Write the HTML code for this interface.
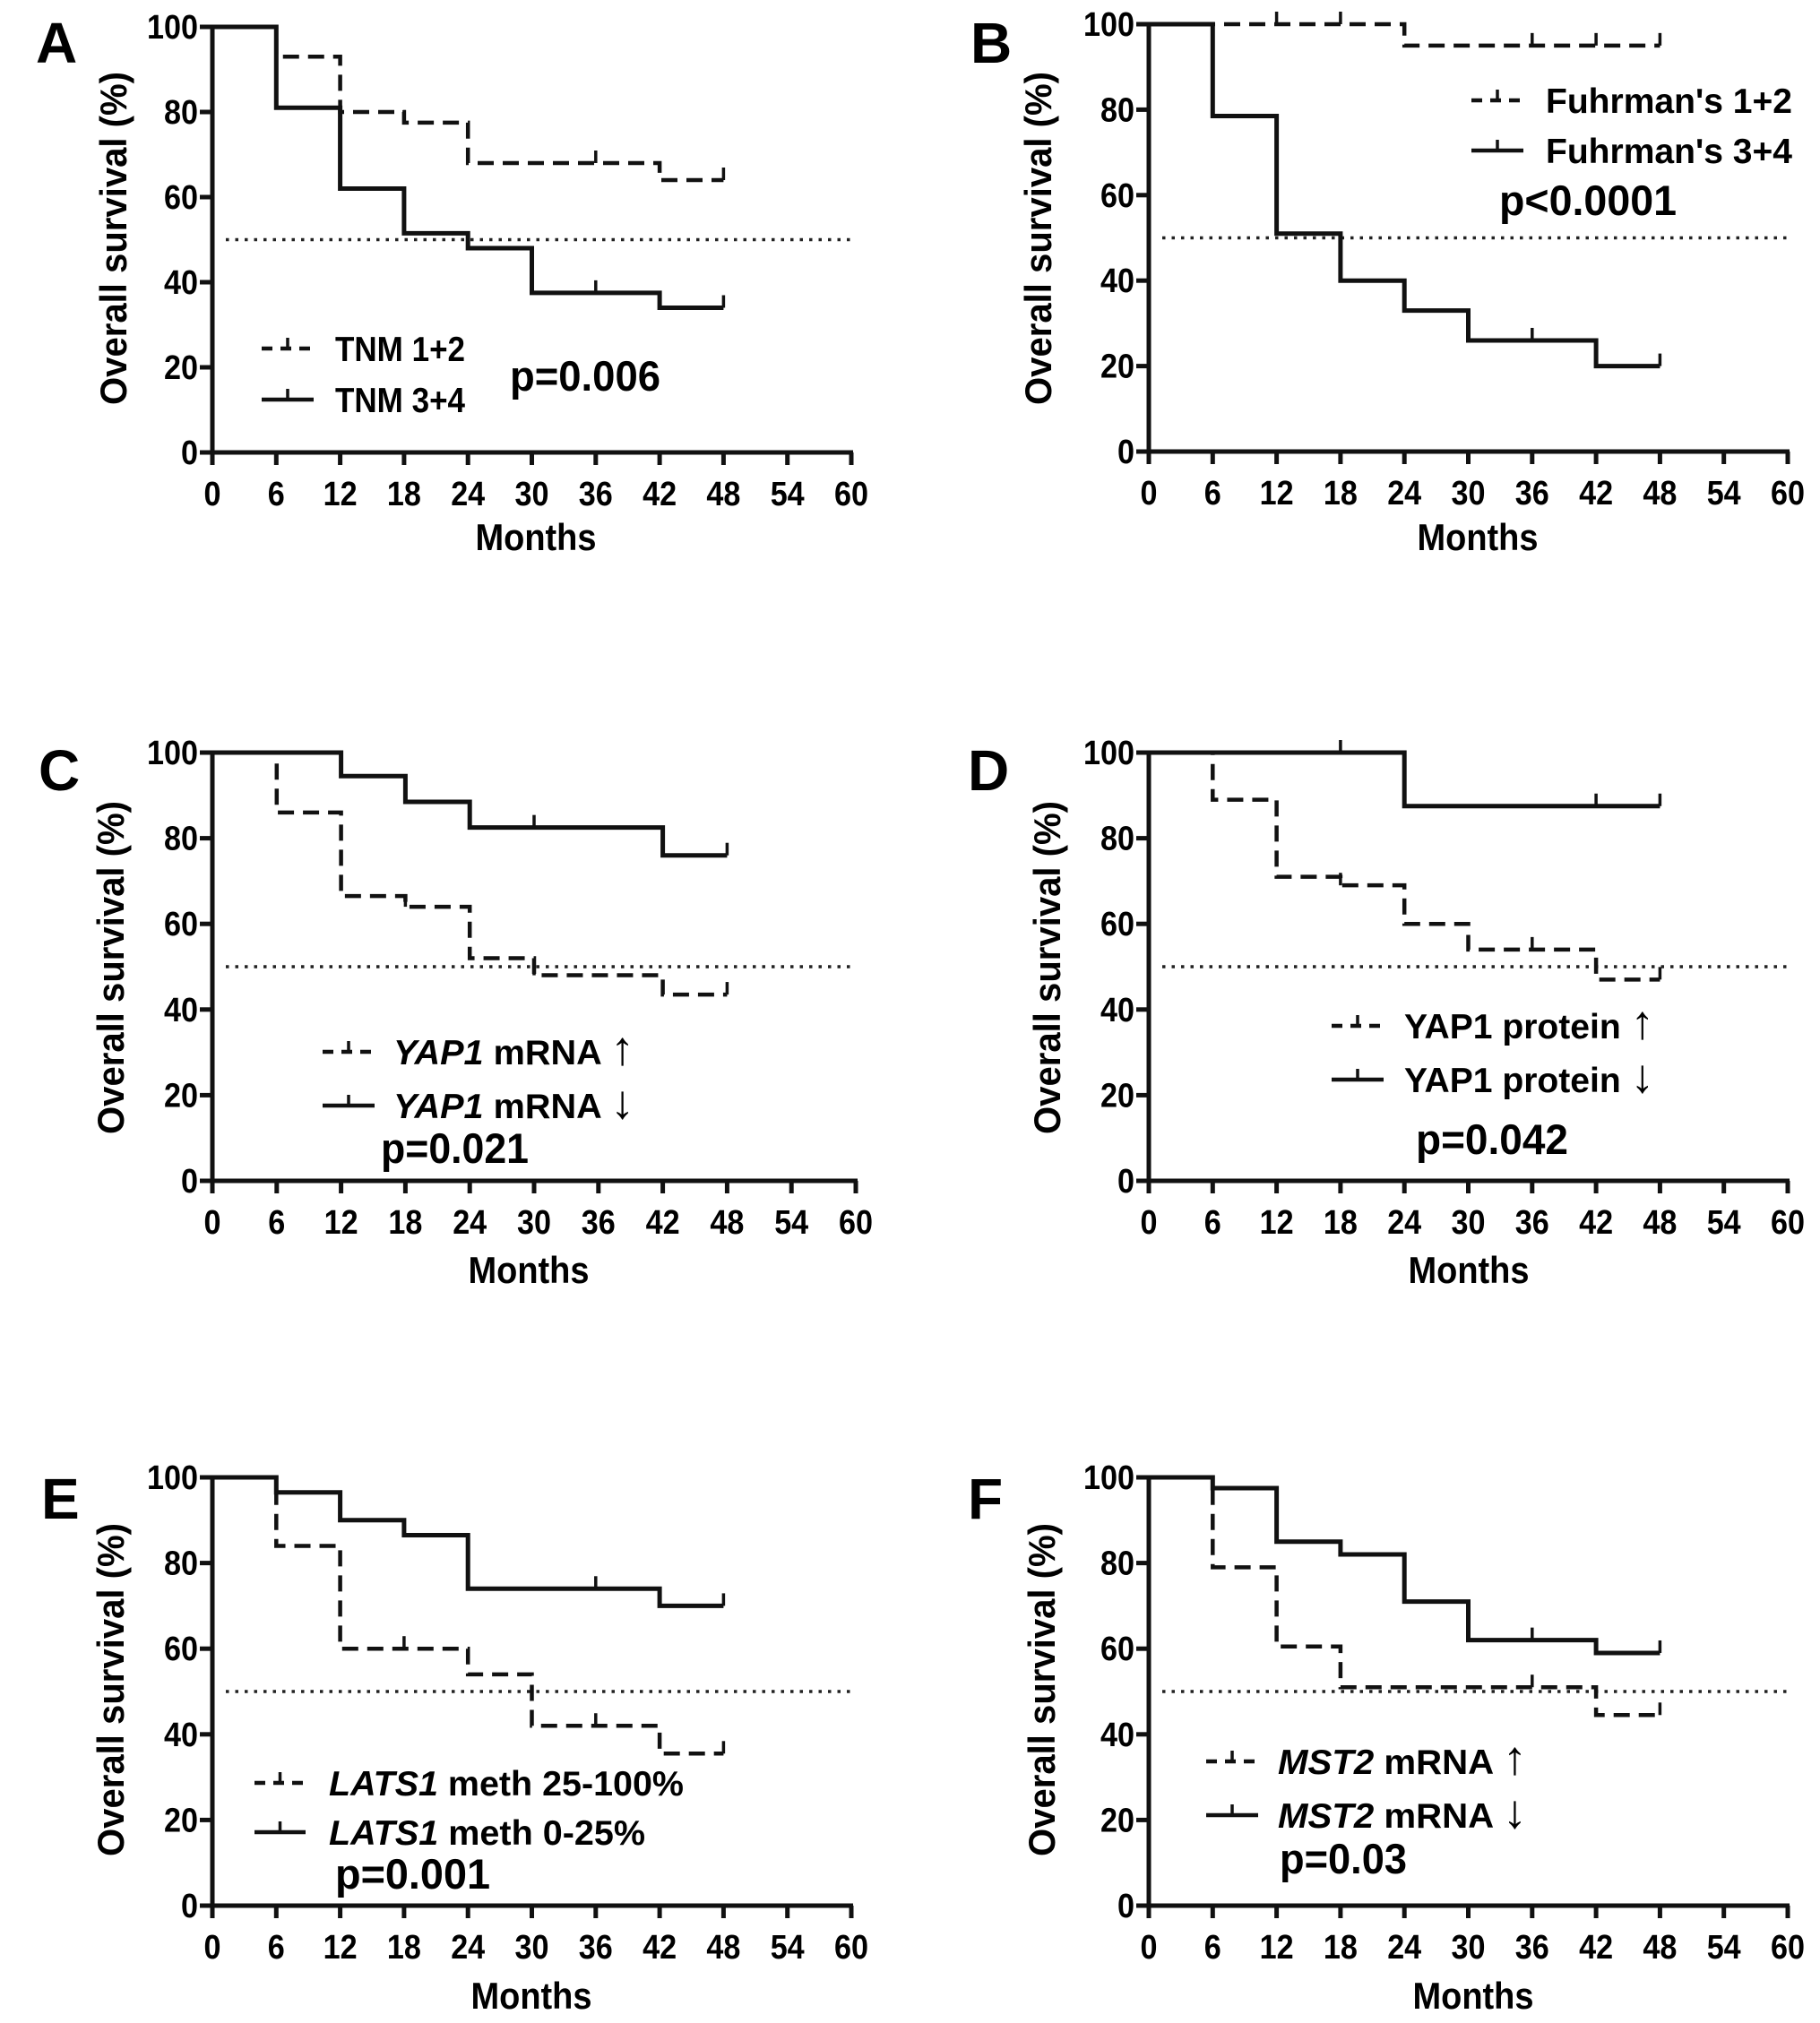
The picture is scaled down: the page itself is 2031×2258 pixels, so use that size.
<!DOCTYPE html>
<html><head><meta charset="utf-8"><style>
html,body{margin:0;padding:0;background:#fff;}
svg{display:block;font-family:"Liberation Sans",Arial,sans-serif;font-weight:bold;}
</style></head><body>
<svg id="fig" width="2031" height="2258" viewBox="0 0 2031 2258" xmlns="http://www.w3.org/2000/svg"></svg>
<script>
// shared x categories (interval starts, months)
const months = [0, 6, 12, 18, 24, 30, 36, 42, 48];
const xTicks = [0, 6, 12, 18, 24, 30, 36, 42, 48, 54, 60];
const yTicks = [0, 20, 40, 60, 80, 100];

// survival (%) at each interval start, per series
const aDash = [100, 93, 80, 77.5, 68, 68, 68, 64];
const aSolid = [100, 81, 62, 51.5, 48, 37.5, 37.5, 34];
const bDash = [100, 100, 100, 100, 95, 95, 95, 95];
const bSolid = [100, 78.5, 51, 40, 33, 26, 26, 20];
const cDash = [100, 86, 66.5, 64, 52, 48, 48, 43.5];
const cSolid = [100, 100, 94.5, 88.5, 82.5, 82.5, 82.5, 76];
const dDash = [100, 89, 71, 69, 60, 54, 54, 47];
const dSolid = [100, 100, 100, 100, 87.5, 87.5, 87.5, 87.5];
const eDash = [100, 84, 60, 60, 54, 42, 42, 35.5];
const eSolid = [100, 96.5, 90, 86.5, 74, 74, 74, 70];
const fDash = [100, 79, 60.5, 51, 51, 51, 51, 44.5];
const fSolid = [100, 97.5, 85, 82, 71, 62, 62, 59];

// censoring marks (months)
const aDashCens = [18, 36, 48];
const aSolidCens = [36, 48];
const bDashCens = [12, 18, 36, 42, 48];
const bSolidCens = [36, 48];
const cDashCens = [18, 30, 48];
const cSolidCens = [30, 48];
const dDashCens = [18, 36, 48];
const dSolidCens = [18, 42, 48];
const eDashCens = [18, 36, 48];
const eSolidCens = [36, 48];
const fDashCens = [36, 48];
const fSolidCens = [36, 48];

const NS = "http://www.w3.org/2000/svg";
const svg = document.getElementById("fig");
function mk(tag, attrs, parent) {
  const el = document.createElementNS(NS, tag);
  for (const k in attrs) el.setAttribute(k, attrs[k]);
  (parent || svg).appendChild(el);
  return el;
}
function txt(parent, x, y, parts, size, anchor, len) {
  const t = mk("text", {x: x, y: y, "font-size": size, "text-anchor": anchor || "start"}, parent);
  if (len) { t.setAttribute("textLength", len); t.setAttribute("lengthAdjust", "spacingAndGlyphs"); }
  parts.forEach(p => {
    const s = mk("tspan", {}, t);
    if (p[1] === 1) s.setAttribute("font-style", "italic");
    if (p[1] === 2) { s.setAttribute("font-size", size * 1.35); s.setAttribute("font-weight", "normal"); }
    s.textContent = p[0];
  });
  return t;
}

const panels = [
  {id:"a", letter:"A", lx:40, ly:70, x0:237, x1:950, y0:505, y1:30, dash:aDash, solid:aSolid, dc:aDashCens, sc:aSolidCens,
   leg:[[[["TNM 1+2",0]],389,145],[[["TNM 3+4",0]],446,145]], legLine:[292,350], legText:374,
   p:["p=0.006",569,436,168], months:[598,614], ytitle:[127,266]},
  {id:"b", letter:"B", lx:1083, ly:70, x0:1282, x1:1995, y0:504, y1:27, dash:bDash, solid:bSolid, dc:bDashCens, sc:bSolidCens,
   leg:[[[["Fuhrman's 1+2",0]],112,275],[[["Fuhrman's 3+4",0]],168,275]], legLine:[1642,1700], legText:1725,
   p:["p<0.0001",1673,240,198], months:[1649,614], ytitle:[1159,266]},
  {id:"c", letter:"C", lx:43, ly:882, x0:237, x1:955, y0:1318, y1:840, dash:cDash, solid:cSolid, dc:cDashCens, sc:cSolidCens,
   leg:[[[["YAP1",1],[" mRNA ",0],["↑",2]],1174,269],[[["YAP1",1],[" mRNA ",0],["↓",2]],1234,269]], legLine:[360,418], legText:439,
   p:["p=0.021",425,1298,165], months:[590,1432], ytitle:[124,1080]},
  {id:"d", letter:"D", lx:1080, ly:882, x0:1282, x1:1995, y0:1318, y1:840, dash:dDash, solid:dSolid, dc:dDashCens, sc:dSolidCens,
   leg:[[[["YAP1 protein ",0],["↑",2]],1145,279],[[["YAP1 protein ",0],["↓",2]],1205,279]], legLine:[1486,1544], legText:1567,
   p:["p=0.042",1580,1288,170], months:[1639,1432], ytitle:[1169,1080]},
  {id:"e", letter:"E", lx:46, ly:1695, x0:237, x1:950, y0:2127, y1:1649, dash:eDash, solid:eSolid, dc:eDashCens, sc:eSolidCens,
   leg:[[[["LATS1",1],[" meth 25-100%",0]],1990,396],[[["LATS1",1],[" meth 0-25%",0]],2045,353]], legLine:[284,341], legText:367,
   p:["p=0.001",374,2108,173], months:[593,2242], ytitle:[124,1886]},
  {id:"f", letter:"F", lx:1080, ly:1695, x0:1282, x1:1995, y0:2127, y1:1649, dash:fDash, solid:fSolid, dc:fDashCens, sc:fSolidCens,
   leg:[[[["MST2",1],[" mRNA ",0],["↑",2]],1966,278],[[["MST2",1],[" mRNA ",0],["↓",2]],2026,278]], legLine:[1346,1404], legText:1426,
   p:["p=0.03",1428,2091,142], months:[1644,2242], ytitle:[1163,1886]}
];

panels.forEach(P => {
  const g = mk("g", {});
  
  
  const xs = m => P.x0 + (P.x1 - P.x0) * m / 60;
  const ys = v => P.y0 - (P.y0 - P.y1) * v / 100;

  const L = txt(g, P.lx, P.ly, [[P.letter,0]], 64, "start");
  
  

  const ref = mk("line", {x1: xs(0)+15, x2: xs(60), y1: ys(50), y2: ys(50), stroke:"#222", "stroke-width":3.5, "stroke-dasharray":"3.5 7"}, g);
  
  

  const ax = mk("g", {stroke:"#111", "stroke-width":5, fill:"none"}, g);
  
  
  mk("line", {x1:xs(0), x2:xs(0), y1:ys(100)-2, y2:ys(0)+14}, ax);
  mk("line", {x1:xs(0)-14, x2:xs(60)+2, y1:ys(0), y2:ys(0)}, ax);
  xTicks.forEach(t => mk("line", {x1:xs(t), x2:xs(t), y1:ys(0), y2:ys(0)+14}, ax));
  yTicks.forEach(t => mk("line", {x1:xs(0)-14, x2:xs(0), y1:ys(t), y2:ys(t)}, ax));

  const xl = mk("g", {}, g);
  
  
  xTicks.forEach(t => {
    const s = String(t);
    txt(xl, xs(t), ys(0)+59, [[s,0]], 38, "middle", s.length*19);
  });
  const yl = mk("g", {}, g);
  
  
  yTicks.forEach(t => {
    const s = String(t);
    txt(yl, xs(0)-16, ys(t)+13, [[s,0]], 38, "end", s.length*19);
  });

  const mt = txt(g, P.months[0], P.months[1], [["Months",0]], 42, "middle", 135);
  
  
  const yt = txt(g, 0, 0, [["Overall survival (%)",0]], 42, "middle", 372);
  yt.setAttribute("transform", `translate(${P.ytitle[0]+14},${P.ytitle[1]}) rotate(-90)`);
  
  

  function curve(vals, cens, dashed, name) {
    let d = `M${xs(months[0])},${ys(vals[0])}`;
    for (let i = 0; i < vals.length; i++) {
      if (i > 0) d += ` V${ys(vals[i])}`;
      d += ` H${xs(months[i+1])}`;
    }
    const p = mk("path", {d: d, fill:"none", stroke:"#111", "stroke-width": dashed?4.5:5, "stroke-dasharray": dashed?"18 10":"none"}, g);
    
    
    cens.forEach(c => {
      const idx = Math.min(Math.floor(c/6), vals.length-1);
      const cm = mk("line", {x1:xs(c), x2:xs(c), y1:ys(vals[idx]), y2:ys(vals[idx])-14, stroke:"#111", "stroke-width":3.5}, g);
      
      
    });
  }
  curve(P.dash, P.dc, true, "curve-dashed");
  curve(P.solid, P.sc, false, "curve-solid");

  P.leg.forEach((e, i) => {
    const lg = mk("g", {}, g);
    
    
    const y = e[1];
    mk("line", {x1:P.legLine[0], x2:P.legLine[1], y1:y, y2:y, stroke:"#111", "stroke-width":4.5, "stroke-dasharray": i===0?"12 9":"none"}, lg);
    mk("line", {x1:(P.legLine[0]+P.legLine[1])/2, x2:(P.legLine[0]+P.legLine[1])/2, y1:y, y2:y-12, stroke:"#111", "stroke-width":3.5}, lg);
    txt(lg, P.legText, y+14, e[0], 39, "start", e[2]);
  });
  const pv = txt(g, P.p[1], P.p[2], [[P.p[0],0]], 47, "start", P.p[3]);
  
  
});
</script>
</body></html>
